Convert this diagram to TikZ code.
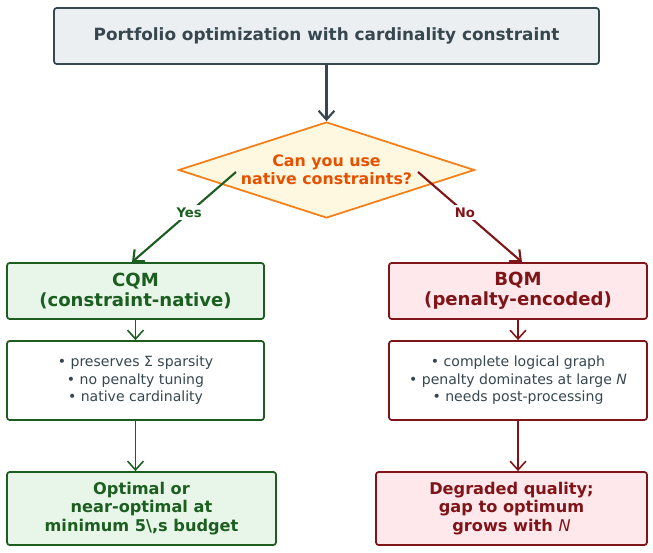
\documentclass[tikz,border=0pt]{standalone}
\usepackage{fontspec}
\setmainfont{DejaVu Sans}
\usetikzlibrary{positioning,shapes.geometric,calc,arrows.meta}
\definecolor{slate}{HTML}{37474F}
\definecolor{slatebg}{HTML}{ECEFF1}
\definecolor{grn}{HTML}{1B5E20}
\definecolor{grnbg}{HTML}{E8F5E9}
\definecolor{rd}{HTML}{7F1518}
\definecolor{rdbg}{HTML}{FFE8EB}
\definecolor{orn}{HTML}{F57F17}
\definecolor{ornbg}{HTML}{FFF8E1}
\definecolor{orntxt}{HTML}{E65100}
\tikzset{
  box/.style={draw, rounded corners=1.5pt, line width=1pt, align=center, inner sep=2pt},
  arr/.style={->, line width=1.2pt, >={Straight Barb[length=5pt,width=9pt]}},
}
\begin{document}
\begin{tikzpicture}[x=0.02cm,y=-0.02cm]
    \useasboundingbox (0,0) rectangle (653,553);

    % Title
    \node (title) [box, draw=slate, fill=slatebg, text=slate, minimum width=10.9cm, minimum height=1.12cm,
        font=\fontsize{9.6}{11}\selectfont\bfseries] at (326.5,36) {Portfolio optimization with cardinality constraint};

    % Decision
    \node (ask) [diamond, draw=orn, fill=ornbg, text=orntxt, line width=1pt, aspect=3.08,
        minimum width=5.92cm, minimum height=1.92cm, inner sep=0pt, align=center,
        font=\fontsize{9}{10.5}\selectfont\bfseries] at (326.5,170) {Can you use\\native constraints?};

    % Yes branch
    \node (cqm) [box, draw=grn, fill=grnbg, text=grn, minimum width=5.14cm, minimum height=1.12cm,
        font=\fontsize{10.3}{11.5}\selectfont\bfseries] at (135.5,291) {CQM\\(constraint-native)};
    \node (cqmpro) [box, draw=grn, fill=white, text=slate, minimum width=5.14cm, minimum height=1.58cm,
        font=\fontsize{8}{10}\selectfont] at (135.5,380.5)
        {• preserves Σ sparsity\\• no penalty tuning\\• native cardinality};
    \node (cqmres) [box, draw=grn, fill=grnbg, text=grn, minimum width=5.38cm, minimum height=1.46cm,
        font=\fontsize{9.2}{10.5}\selectfont\bfseries] at (141.5,508.5)
        {Optimal or\\near-optimal at\\minimum 5\textbackslash,s budget};

    % No branch
    \node (bqm) [box, draw=rd, fill=rdbg, text=rd, minimum width=5.16cm, minimum height=1.12cm,
        font=\fontsize{10.3}{11.5}\selectfont\bfseries] at (518,291) {BQM\\(penalty-encoded)};
    \node (bqmcon) [box, draw=rd, fill=white, text=slate, minimum width=5.16cm, minimum height=1.58cm,
        font=\fontsize{8}{10}\selectfont] at (518,380.5)
        {• complete logical graph\\• penalty dominates at large \textit{N}\\• needs post-processing};
    \node (bqmres) [box, draw=rd, fill=rdbg, text=rd, minimum width=5.42cm, minimum height=1.46cm,
        font=\fontsize{9.2}{10.5}\selectfont\bfseries] at (511.5,508.5)
        {Degraded quality;\\gap to optimum\\grows with \textmd{\textit{N}}};

    % Connectors
    \coordinate (yesfrom) at (236,172);
    \coordinate (nofrom) at (418,172);
    \draw [arr, slate] (title) -- (ask);
    \draw [arr, grn] (yesfrom) -- (cqm.north -| 132,0) node [pos=0.45, fill=white, inner sep=1.5pt,
        font=\fontsize{7.5}{8}\selectfont\bfseries, text=grn] {Yes};
    \draw [arr, rd] (nofrom) -- (bqm.north -| 522,0) node [pos=0.45, fill=white, inner sep=1.5pt,
        font=\fontsize{7.5}{8}\selectfont\bfseries, text=rd] {No};
    \draw [arr, grn, line width=0.9pt] (cqm) -- (cqmpro);
    \draw [arr, grn, line width=0.9pt] (cqmpro.south) -- (cqmpro.south |- cqmres.north);
    \draw [arr, rd, line width=0.9pt] (bqm) -- (bqmcon);
    \draw [arr, rd, line width=0.9pt] (bqmcon.south) -- (bqmcon.south |- bqmres.north);
\end{tikzpicture}
\end{document}
